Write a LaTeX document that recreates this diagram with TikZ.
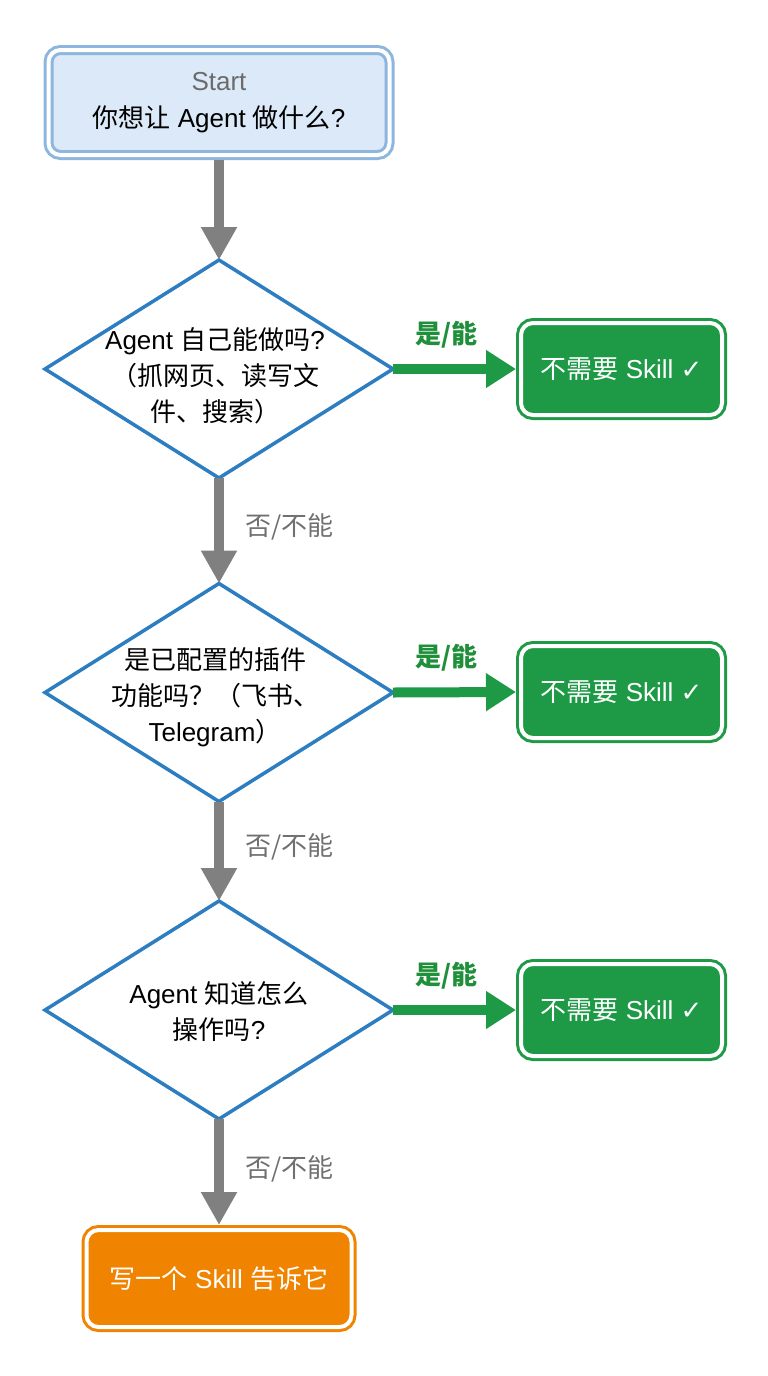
\documentclass[tikz,border=0pt]{standalone}
\usepackage{fontspec}
\setmainfont{Liberation Sans}
\newfontfamily\cjk{Noto Sans CJK SC}
\newfontfamily\symb{DejaVu Sans}
\usetikzlibrary{shapes.geometric,arrows.meta}
\newcommand{\zh}[1]{{\cjk #1}}
\definecolor{startfill}{HTML}{DCE9F8}
\definecolor{startline}{HTML}{8DB6DF}
\definecolor{starttext}{HTML}{6B6B6B}
\definecolor{dblue}{HTML}{2D7DC1}
\definecolor{agray}{HTML}{808080}
\definecolor{lgray}{HTML}{707070}
\definecolor{agreen}{HTML}{1E9A47}
\definecolor{lgreen}{HTML}{1F8F3A}
\definecolor{aorange}{HTML}{F08300}

\begin{document}
\begin{tikzpicture}
		[x=1pt, y=-1pt,
		txt/.style ={font=\fontsize{26}{36}\selectfont, align=center, inner sep=0pt},
		twobox/.style ={rectangle, rounded corners=12pt, line width=3pt, double=white, double distance=4pt, inner sep=0pt, outer sep=0pt, font=\fontsize{26}{36}\selectfont, align=center},
		startbox/.style ={twobox, draw=startline, fill=startfill, minimum width=341pt, minimum height=105pt},
		okbox/.style ={twobox, draw=agreen, fill=agreen, text=white, minimum width=201pt, minimum height=92pt},
		endbox/.style ={twobox, draw=aorange, fill=aorange, text=white, minimum width=265pt, minimum height=97pt},
		decision/.style ={diamond, draw=dblue, line width=3.5pt, fill=white, minimum width=348pt, minimum height=218pt, inner sep=0pt, outer sep=0pt},
		nope/.style ={color=agray, line width=10pt, -{Triangle[width=34pt,length=33pt]}},
		yes/.style ={color=agreen, line width=10pt, -{Triangle[width=36pt,length=30pt]}, shorten >=5pt},
		nolabel/.style ={font=\fontsize{26}{36}\selectfont\cjk, text=lgray, inner sep=0pt},
		yeslabel/.style ={font=\fontsize{26}{36}\selectfont\cjk\bfseries, text=lgreen, inner sep=0pt}]
		\fill[white] (0,0) rectangle (768,1376);

		\node[startbox] (start) at (219,102.5) {{\color{starttext}Start}\\[1pt]\zh{你想让} Agent \zh{做什么}?};

		\node[decision] (d1) at (219,369) {};
		\node[txt] (d1t) at (215,376) {Agent \zh{自己能做吗}?\\\zh{（抓网页、读写文}\\\zh{件、搜索）}};
		\node[decision] (d2) at (219,692.5) {};
		\node[txt] (d2t) at (215,697) {\zh{是已配置的插件}\\\zh{功能吗？（飞书、}\\Telegram\zh{）}};
		\node[decision] (d3) at (219,1010) {};
		\node[txt] (d3t) at (219,1012) {Agent \zh{知道怎么}\\\zh{操作吗}?};

		\node[okbox] (ok1) at (621.5,369) {\zh{不需要} Skill {\symb ✓}};
		\node[okbox] (ok2) at (621.5,692) {\zh{不需要} Skill {\symb ✓}};
		\node[okbox] (ok3) at (621.5,1010) {\zh{不需要} Skill {\symb ✓}};

		\node[endbox] (write) at (219,1278.5) {\zh{写一个} Skill \zh{告诉它}};

		\path[nope]
		(start.south) edge[shorten <=5pt] (d1.north)
		(d1.south) edge node[nolabel, right=21pt, yshift=4pt] {否/不能} (d2.north)
		(d2.south) edge node[nolabel, right=21pt, yshift=4pt] {否/不能} (d3.north)
		(d3.south) edge[shorten >=5pt] node[nolabel, right=21pt, yshift=6pt] {否/不能} (write.north);

		\path[yes]
		(d1.east) edge node[yeslabel, above=16pt, xshift=-11pt] {是/能} (ok1.west)
		(d2.east) edge node[yeslabel, above=16pt, xshift=-11pt] {是/能} (ok2.west)
		(d3.east) edge node[yeslabel, above=16pt, xshift=-11pt] {是/能} (ok3.west);

	\end{tikzpicture}
\end{document}
